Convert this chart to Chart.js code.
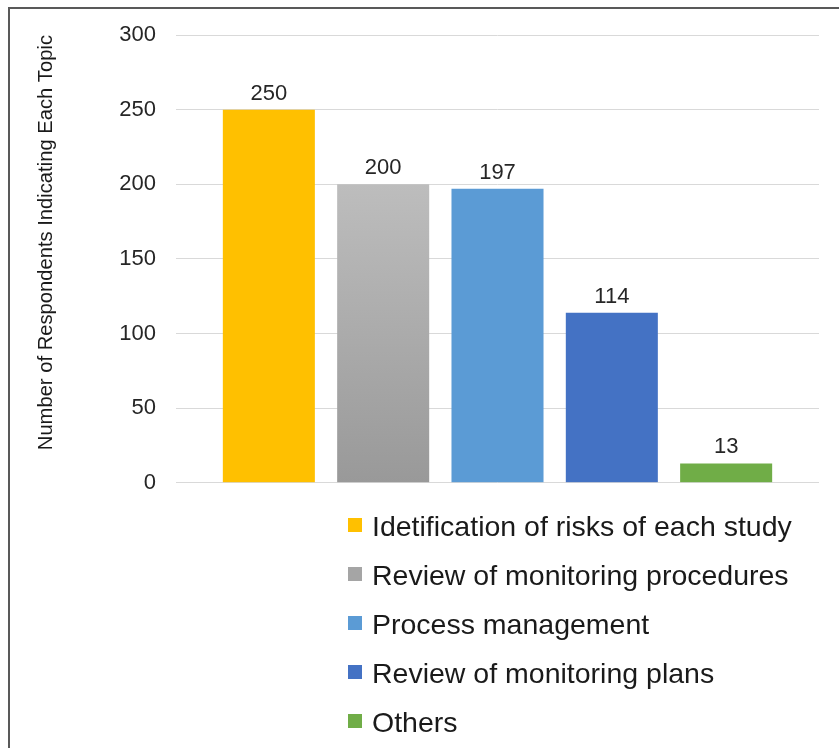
<!DOCTYPE html>
<html>
<head>
<meta charset="utf-8">
<script src="https://cdn.jsdelivr.net/npm/chart.js@4"></script>
<style>
  html, body { margin: 0; padding: 0; background: #fff; }
  body { width: 839px; height: 748px; position: relative; overflow: hidden; font-family: "Liberation Sans", Arial, sans-serif; }
  #frame { position: absolute; left: 8px; top: 7px; right: -10px; bottom: -10px; border-left: 2px solid #595959; border-top: 2px solid #595959; }
  #wrap { position: absolute; left: 0; top: 0; width: 839px; height: 516px; }
  #legend { position: absolute; left: 348px; top: 502px; }
  .row { height: 49px; display: flex; align-items: center; font-size: 28.5px; color: #1a1a1a; white-space: nowrap; }
  .box { width: 14px; height: 14px; margin-right: 10px; margin-top: -4px; }
</style>
</head>
<body>
<div id="frame"></div>
<div id="wrap"><canvas id="myChart"></canvas></div>
<div id="legend"></div>
<script>
const topics = [
  'Idetification of risks of each study',
  'Review of monitoring procedures',
  'Process management',
  'Review of monitoring plans',
  'Others'
];
const counts = [250, 200, 197, 114, 13];
const colors = ['#ffc000', '#a5a5a5', '#5b9bd5', '#4472c4', '#70ad47'];
const yTicks = [0, 50, 100, 150, 200, 250, 300];

// gray bar has a light-to-dark gradient
function grayFill(c) {
  const chart = c.chart;
  if (!chart.chartArea) return colors[1];
  const y = chart.scales.y;
  const g = chart.ctx.createLinearGradient(0, y.getPixelForValue(counts[1]), 0, y.getPixelForValue(0));
  g.addColorStop(0, '#bdbdbd');
  g.addColorStop(1, '#999999');
  return g;
}

const valueLabels = {
  id: 'valueLabels',
  afterDatasetsDraw(chart) {
    const ctx = chart.ctx;
    ctx.save();
    ctx.font = '22px "Liberation Sans", Arial, sans-serif';
    ctx.fillStyle = '#262626';
    ctx.textAlign = 'center';
    ctx.textBaseline = 'alphabetic';
    chart.data.datasets.forEach((ds, i) => {
      const bar = chart.getDatasetMeta(i).data[0];
      ctx.fillText(ds.data[0], bar.x, bar.y - 10);
    });
    ctx.restore();
  }
};

const data = {
  labels: [''],
  datasets: topics.map((t, i) => ({
    label: t,
    data: [counts[i]],
    backgroundColor: i === 1 ? grayFill : colors[i],
    categoryPercentage: 0.889,
    barPercentage: 0.805
  }))
};

const config = {
  type: 'bar',
  data: data,
  options: {
    responsive: true,
    maintainAspectRatio: false,
    animation: false,
    layout: { padding: { left: 0, right: 20, top: 35, bottom: 17 } },
    plugins: {
      legend: { display: false },
      tooltip: { enabled: false }
    },
    scales: {
      x: { display: false },
      y: {
        min: 0,
        max: 300,
        afterFit: (s) => { s.width = 176; },
        afterBuildTicks: (s) => { s.ticks = yTicks.map(v => ({ value: v })); },
        border: { display: false },
        grid: { color: '#d9d9d9', lineWidth: 1, drawTicks: false },
        ticks: {
          padding: 20,
          color: '#262626',
          font: { family: '"Liberation Sans", Arial, sans-serif', size: 22 }
        },
        title: {
          display: true,
          align: 'end',
          text: 'Number of Respondents Indicating Each Topic',
          color: '#1a1a1a',
          padding: { top: 34, bottom: 0 },
          font: { family: '"Liberation Sans", Arial, sans-serif', size: 20.2 }
        }
      }
    }
  },
  plugins: [valueLabels]
};

const myChart = new Chart(document.getElementById('myChart'), config);

// legend, one topic per row
const legend = document.getElementById('legend');
topics.forEach((t, i) => {
  const row = document.createElement('div');
  row.className = 'row';
  const box = document.createElement('span');
  box.className = 'box';
  box.style.background = colors[i];
  row.appendChild(box);
  row.appendChild(document.createTextNode(t));
  legend.appendChild(row);
});
</script>
</body>
</html>
